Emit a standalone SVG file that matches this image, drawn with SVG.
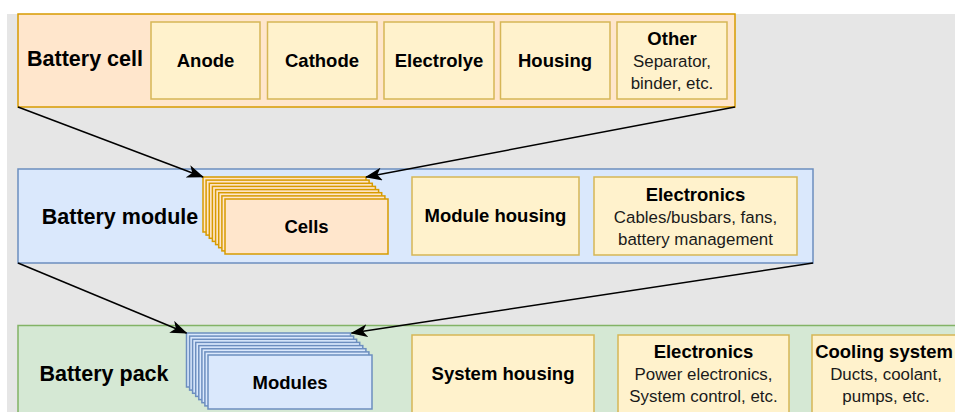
<svg xmlns="http://www.w3.org/2000/svg" width="955" height="412" viewBox="0 0 955 412">
  <style>
    text { font-family: "Liberation Sans", Arial, Helvetica, sans-serif; text-anchor: middle; }
    .title { font-size: 21.5px; font-weight: bold; fill: #000; }
    .label { font-size: 18.5px; font-weight: bold; fill: #000; }
    .sub { font-size: 16.9px; fill: #1a1a1a; }
    .orange { fill: #FFE6CC; stroke: #D79B00; stroke-width: 1.5; }
    .yellow { fill: #FFF2CC; stroke: #D6B656; stroke-width: 1.5; }
    .blue { fill: #DAE8FC; stroke: #6C8EBF; stroke-width: 1.5; }
    .green { fill: #D5E8D4; stroke: #82B366; stroke-width: 1.5; }
    .link { fill: none; stroke: #000; stroke-width: 1.5; marker-end: url(#arrow); }
  </style>
  <defs>
    <marker id="arrow" markerUnits="userSpaceOnUse" markerWidth="17" markerHeight="13" viewBox="0 0 17 13" refX="16" refY="6.5" orient="auto">
      <path d="M0,0 L17,6.5 L0,13 L4.5,6.5 z" fill="#000"/>
    </marker>
    <rect id="cellCard" width="163" height="55"/>
    <rect id="moduleCard" width="164" height="54"/>
  </defs>

  <!-- canvas -->
  <rect width="955" height="412" fill="#fff"/>
  <rect x="7" y="14" width="948" height="398" fill="#E6E6E6"/>

  <!-- Battery cell level -->
  <g id="battery-cell">
    <rect class="orange" x="18" y="14" width="717" height="93"/>
    <text class="title" x="85" y="66">Battery cell</text>
  </g>
  <g id="anode">
    <rect class="yellow" x="151" y="22" width="109" height="77"/>
    <text class="label" x="205.5" y="66.5">Anode</text>
  </g>
  <g id="cathode">
    <rect class="yellow" x="267.5" y="22" width="109.5" height="77"/>
    <text class="label" x="322" y="66.5">Cathode</text>
  </g>
  <g id="electrolyte">
    <rect class="yellow" x="384" y="22" width="110" height="77"/>
    <text class="label" x="439" y="66.5">Electrolye</text>
  </g>
  <g id="cell-housing">
    <rect class="yellow" x="500.5" y="22" width="109.5" height="77"/>
    <text class="label" x="555" y="66.5">Housing</text>
  </g>
  <g id="cell-other">
    <rect class="yellow" x="617" y="22" width="110" height="77"/>
    <text class="label" x="672" y="45">Other</text>
    <text class="sub" x="672" y="66.5">Separator,</text>
    <text class="sub" x="672" y="89">binder, etc.</text>
  </g>

  <!-- Battery module level -->
  <g id="battery-module">
    <rect class="blue" x="18" y="169" width="795" height="94"/>
    <text class="title" x="120" y="223.5">Battery module</text>
  </g>
  <g id="cells">
    <use href="#cellCard" class="orange" x="203" y="177"/>
    <use href="#cellCard" class="orange" x="206.1" y="180.1"/>
    <use href="#cellCard" class="orange" x="209.3" y="183.3"/>
    <use href="#cellCard" class="orange" x="212.4" y="186.4"/>
    <use href="#cellCard" class="orange" x="215.6" y="189.6"/>
    <use href="#cellCard" class="orange" x="218.7" y="192.7"/>
    <use href="#cellCard" class="orange" x="221.9" y="195.9"/>
    <use href="#cellCard" class="orange" x="225" y="199"/>
    <text class="label" x="306.5" y="233">Cells</text>
  </g>
  <g id="module-housing">
    <rect class="yellow" x="412" y="177" width="167" height="78"/>
    <text class="label" x="495.5" y="222">Module housing</text>
  </g>
  <g id="module-electronics">
    <rect class="yellow" x="594" y="177" width="203" height="78"/>
    <text class="label" x="695.5" y="200.5">Electronics</text>
    <text class="sub" x="695.5" y="222.5">Cables/busbars, fans,</text>
    <text class="sub" x="695.5" y="245">battery management</text>
  </g>

  <!-- Battery pack level -->
  <g id="battery-pack">
    <rect class="green" x="18" y="325.5" width="950" height="100"/>
    <text class="title" x="104" y="380.5">Battery pack</text>
  </g>
  <g id="modules">
    <use href="#moduleCard" class="blue" x="186.5" y="333"/>
    <use href="#moduleCard" class="blue" x="189.6" y="336.1"/>
    <use href="#moduleCard" class="blue" x="192.6" y="339.3"/>
    <use href="#moduleCard" class="blue" x="195.7" y="342.4"/>
    <use href="#moduleCard" class="blue" x="198.8" y="345.6"/>
    <use href="#moduleCard" class="blue" x="201.9" y="348.7"/>
    <use href="#moduleCard" class="blue" x="204.9" y="351.9"/>
    <use href="#moduleCard" class="blue" x="208" y="355"/>
    <text class="label" x="290" y="388.5">Modules</text>
  </g>
  <g id="system-housing">
    <rect class="yellow" x="412" y="335" width="182" height="90"/>
    <text class="label" x="503" y="379.5">System housing</text>
  </g>
  <g id="pack-electronics">
    <rect class="yellow" x="618" y="335" width="171" height="90"/>
    <text class="label" x="703.5" y="358">Electronics</text>
    <text class="sub" x="703.5" y="379.5">Power electronics,</text>
    <text class="sub" x="703.5" y="401.5">System control, etc.</text>
  </g>
  <g id="cooling-system">
    <rect class="yellow" x="812" y="335" width="150" height="90"/>
    <text class="label" x="884" y="358">Cooling system</text>
    <text class="sub" x="886" y="379.5">Ducts, coolant,</text>
    <text class="sub" x="886" y="401.5">pumps, etc.</text>
  </g>

  <!-- connectors: each level feeds the stacked parts of the next -->
  <g id="connectors">
    <line class="link" x1="18" y1="107" x2="203" y2="177"/>
    <line class="link" x1="735" y1="107" x2="366" y2="177"/>
    <line class="link" x1="18" y1="263" x2="186.5" y2="333"/>
    <line class="link" x1="813" y1="263" x2="351.5" y2="333"/>
  </g>
</svg>
